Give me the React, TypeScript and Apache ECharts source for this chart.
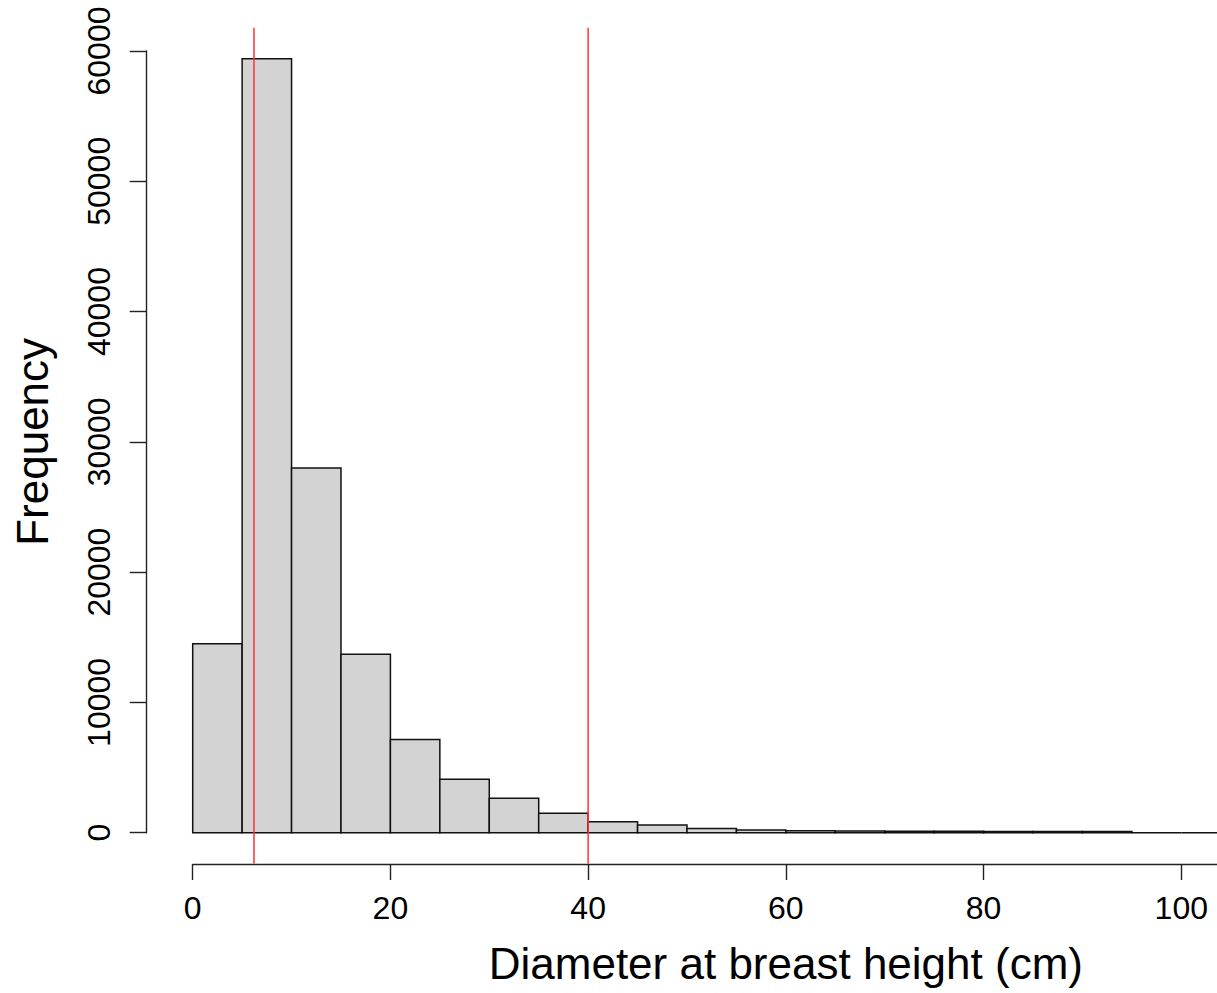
import React, { useEffect, useRef } from "react";
import * as echarts from "echarts";

// Histogram bins (cm) and counts
const binStarts = [0, 5, 10, 15, 20, 25, 30, 35, 40, 45, 50, 55, 60, 65, 70, 75, 80, 85, 90, 95, 100, 105, 110, 115];
const binWidth = 5;
const counts = [14500, 59400, 28000, 13700, 7150, 4100, 2650, 1500, 840, 590, 320, 200, 150, 130, 120, 110, 100, 95, 90, 0, 0, 0, 0, 0];
const refLines = [6.2, 40];
const yTicks = [0, 10000, 20000, 30000, 40000, 50000, 60000];
const xTicks = [0, 20, 40, 60, 80, 100, 120];

const FONT = "'Liberation Sans', Arial, Helvetica, sans-serif";

export default function App() {
  const ref = useRef<HTMLDivElement>(null);
  useEffect(() => {
    if (!ref.current) return;
    const chart = echarts.init(ref.current, undefined, { renderer: "svg" });
    const maxCount = Math.max(...counts);
    const yLo = -0.04 * maxCount;
    const yHi = 1.04 * maxCount;
    const barData = binStarts.map((s, i) => [s, s + binWidth, counts[i]]);
    const lineData = refLines.map((x) => [x, yLo, yHi]);
    chart.setOption({
      animation: false,
      backgroundColor: "#ffffff",
      textStyle: { fontFamily: FONT },
      grid: { left: 192.7, top: 51, width: 1186.3, bottom: 160.3, containLabel: false },
      xAxis: {
        type: "value",
        min: xTicks[0],
        max: xTicks[xTicks.length - 1],
        interval: 20,
        offset: 31.3,
        name: "Diameter at breast height (cm)",
        nameLocation: "middle",
        nameGap: 77,
        nameTextStyle: { fontSize: 44, color: "#000", fontFamily: FONT },
        axisLine: { show: true, onZero: false, lineStyle: { color: "#222", width: 1.4 } },
        axisTick: { show: true, length: 16, lineStyle: { color: "#222", width: 1.4 } },
        axisLabel: {
          fontSize: 32,
          color: "#000",
          margin: 28,
          fontFamily: FONT,
          showMaxLabel: false,
          formatter: (v: number) => (v >= 120 ? "" : String(v)),
        },
        splitLine: { show: false },
      },
      yAxis: {
        type: "value",
        min: yTicks[0],
        max: yTicks[yTicks.length - 1],
        interval: 10000,
        offset: 46,
        name: "Frequency",
        nameLocation: "middle",
        nameRotate: 90,
        nameGap: 92,
        nameTextStyle: { fontSize: 44, color: "#000", fontFamily: FONT },
        axisLine: { show: true, onZero: false, lineStyle: { color: "#222", width: 1.4 } },
        axisTick: { show: true, length: 17, lineStyle: { color: "#222", width: 1.4 } },
        axisLabel: { fontSize: 32, color: "#000", rotate: 90, margin: 32, fontFamily: FONT, formatter: (v: number) => String(v) },
        splitLine: { show: false },
      },
      series: [
        {
          type: "custom",
          data: barData,
          encode: { x: [0, 1], y: 2 },
          renderItem: (params: any, api: any) => {
            const p0 = api.coord([api.value(0), api.value(2)]);
            const p1 = api.coord([api.value(1), 0]);
            return {
              type: "rect",
              shape: { x: p0[0], y: p0[1], width: p1[0] - p0[0], height: p1[1] - p0[1] },
              style: { fill: "#d3d3d3", stroke: "#111", lineWidth: 1.5 },
            };
          },
        },
        {
          type: "custom",
          data: lineData,
          clip: false,
          encode: { x: 0, y: [1, 2] },
          z: 5,
          renderItem: (params: any, api: any) => {
            const a = api.coord([api.value(0), api.value(2)]);
            const b = api.coord([api.value(0), api.value(1)]);
            return {
              type: "line",
              shape: { x1: a[0], y1: a[1], x2: b[0], y2: b[1] },
              style: { stroke: "#ff3333", lineWidth: 1.5 },
            };
          },
        },
      ],
    });
    return () => chart.dispose();
  }, []);
  return (
    <div style={{ position: "absolute", left: 0, top: 0, width: 1217, height: 993, overflow: "hidden", background: "#fff" }}>
      <div ref={ref} style={{ width: 1450, height: 993 }} />
    </div>
  );
}
